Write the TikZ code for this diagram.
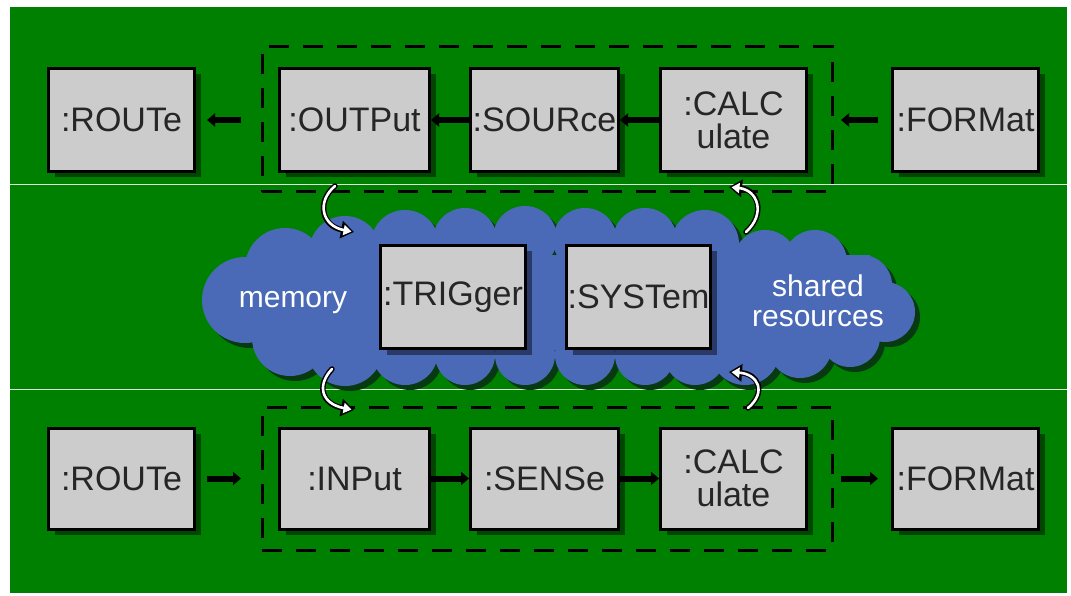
\documentclass[tikz,border=0pt]{standalone}
\usepackage{fontspec}
\setmainfont{Liberation Sans}
\usetikzlibrary{arrows.meta,shadows}
\definecolor{field}{RGB}{0,128,0}
\definecolor{boxgray}{RGB}{204,204,204}
\definecolor{cloudblue}{RGB}{74,106,184}
\definecolor{cloudshade}{RGB}{8,58,18}
\definecolor{rule}{RGB}{220,235,220}

\begin{document}
\begin{tikzpicture}[x=1pt,y=-1pt,
  box/.style={draw=black, line width=3pt, fill=boxgray, inner sep=0pt,
    align=center, text=black!85, font=\fontsize{34}{33}\selectfont,
    drop shadow={shadow xshift=6pt, shadow yshift=-6pt, fill=black, opacity=.45}},
  group/.style={draw=black, line width=3pt, dash pattern=on 20pt off 14pt, inner sep=0pt},
  conn/.style={line width=6pt, -{Triangle[length=8pt,width=13pt]}},
  loopout/.style={line width=5.5pt, black, line cap=round, -{Triangle[length=13pt,width=17pt]}},
  loopin/.style={line width=2.6pt, white, line cap=round, shorten >=2.5pt, -{Triangle[length=8pt,width=10pt]}},
  cloudtext/.style={text=white, align=center, font=\fontsize{30}{30}\selectfont}]

\useasboundingbox (0,0) rectangle (1071,596);
\fill[white] (0,0) rectangle (1071,596);

% green field and its two thin rules
\fill[field] (10,7) rectangle (1067,593);
\draw[rule, line width=1pt] (10,185) -- (1067,185);
\draw[rule, line width=1pt] (10,389) -- (1067,389);

% shared-resources cloud: lobes plus a core, shadow first, then body
\def\cloudlobes{%
  245/300/43, 285/268/40, 290/338/38, 345/252/36, 345/348/38,
  405/244/34, 465/240/32, 525/238/32, 585/240/32, 645/240/32,
  705/244/34, 765/262/32, 815/262/32, 862/285/30, 885/312/30,
  850/337/30, 800/346/32, 745/350/35, 405/352/33, 465/355/30,
  525/355/30, 585/355/30, 645/355/30, 695/354/31}
\begin{scope}[shift={(5,5)}]
  \fill[cloudshade] (270,255) rectangle (870,350);
  \foreach \cx/\cy/\r in \cloudlobes { \fill[cloudshade] (\cx,\cy) circle (\r); }
\end{scope}
\fill[cloudblue] (270,255) rectangle (870,350);
\foreach \cx/\cy/\r in \cloudlobes { \fill[cloudblue] (\cx,\cy) circle (\r); }

\node[cloudtext] (mem) at (293,303) {memory};
\node[cloudtext] (shared) at (818,301) {shared\\resources};

% dashed frames around the output and input chains
\node[group, minimum width=570pt, minimum height=145pt] (outgrp) at (547,119.5) {};
\node[group, minimum width=570pt, minimum height=143pt] (ingrp) at (547,478.5) {};

% output chain
\node[box, minimum width=146pt, minimum height=103pt] (route1) at (121.5,120) {:ROUTe};
\node[box, minimum width=150pt, minimum height=103pt] (output) at (354.5,120) {:OUTPut};
\node[box, minimum width=148pt, minimum height=103pt] (source) at (544.5,120) {:SOURce};
\node[box, minimum width=146pt, minimum height=103pt] (calc1) at (733.5,120) {:CALC\\ulate};
\node[box, minimum width=146pt, minimum height=103pt] (format1) at (965.5,120) {:FORMat};

% central subsystems
\node[box, minimum width=145pt, minimum height=103pt] (trigger) at (453,297) {:TRIGger};
\node[box, minimum width=144pt, minimum height=103pt] (system) at (638.5,297) {:SYSTem};

% input chain
\node[box, minimum width=146pt, minimum height=101pt] (route2) at (121.5,478.5) {:ROUTe};
\node[box, minimum width=150pt, minimum height=101pt] (input) at (354.5,478.5) {:INPut};
\node[box, minimum width=148pt, minimum height=101pt] (sense) at (544.5,478.5) {:SENSe};
\node[box, minimum width=146pt, minimum height=101pt] (calc2) at (733.5,478.5) {:CALC\\ulate};
\node[box, minimum width=146pt, minimum height=101pt] (format2) at (965.5,478.5) {:FORMat};

% data flow, output side (right to left)
\draw[conn, shorten <=37pt, shorten >=11pt] (output) -- (route1);
\draw[conn] (source) -- (output);
\draw[conn] (calc1) -- (source);
\draw[conn, shorten <=13pt, shorten >=33pt] (format1) -- (calc1);

% data flow, input side (left to right)
\draw[conn, shorten <=11pt, shorten >=37pt] (route2) -- (input);
\draw[conn] (input) -- (sense);
\draw[conn] (sense) -- (calc2);
\draw[conn, shorten <=33pt, shorten >=13pt] (calc2) -- (format2);

% links between the chains and the shared resources
\coordinate (tlA) at (335,186);
\coordinate (tlB) at (354,232);
\coordinate (trA) at (746,232);
\coordinate (trB) at (729,187);
\coordinate (blA) at (332,369);
\coordinate (blB) at (354,410);
\coordinate (brA) at (748,408);
\coordinate (brB) at (729,372);

\foreach \s in {loopout,loopin}{
  \draw[\s] (tlA) .. controls (316,202) and (322,226) .. (tlB);
  \draw[\s] (trA) .. controls (766,214) and (758,190) .. (trB);
  \draw[\s] (blA) .. controls (316,386) and (322,404) .. (blB);
  \draw[\s] (brA) .. controls (767,392) and (758,374) .. (brB);
}
\end{tikzpicture}
\end{document}
